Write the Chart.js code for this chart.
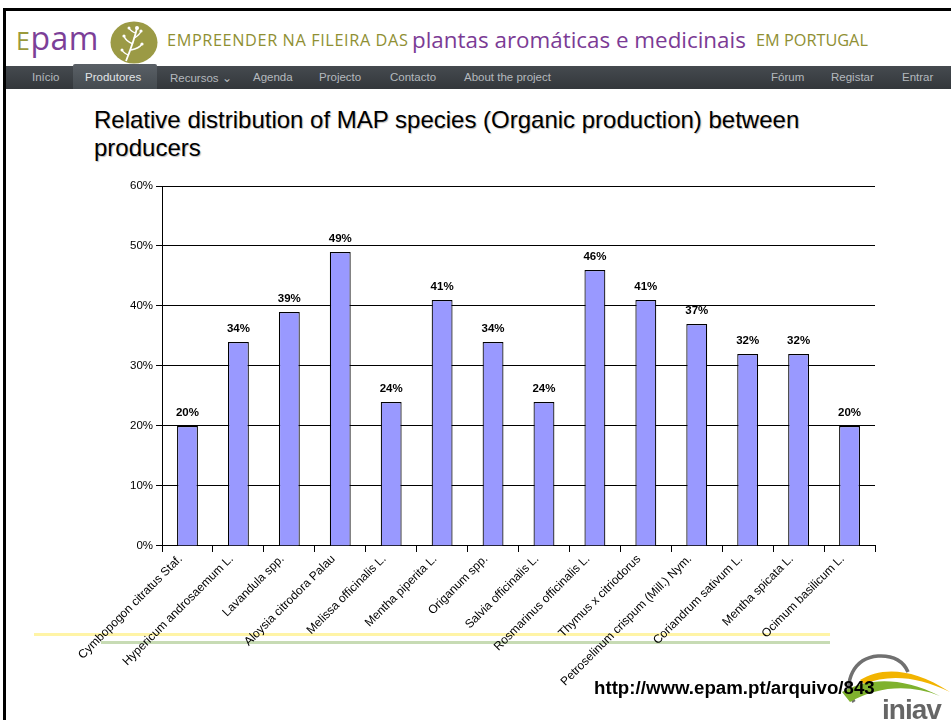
<!DOCTYPE html>
<html>
<head>
<meta charset="utf-8">
<script src="https://cdn.jsdelivr.net/npm/chart.js@4/dist/chart.umd.min.js"></script>
<style>
  html,body{margin:0;padding:0;background:#fff;}
  body{width:951px;height:720px;position:relative;overflow:hidden;font-family:"Liberation Sans",Arial,sans-serif;}
  .abs{position:absolute;}
  #frameTop{left:3px;top:8px;width:948px;height:3px;background:#000;}
  #frameLeft{left:3px;top:8px;width:3px;height:712px;background:#000;}
  #logo{left:16px;top:19px;font-family:"Open Sans",sans-serif;font-size:32px;line-height:38px;letter-spacing:0.5px;}
  .tg{position:absolute;font-family:"Open Sans",sans-serif;white-space:nowrap;color:#8f8f33;}
  .tg.s{font-size:16.3px;top:29px;}
  .tg.b{font-size:22.4px;color:#7b3b95;top:24px;}
  #nav{left:6px;top:66px;width:945px;height:23px;background:linear-gradient(#454a4f,#33373b);}
  .ni{position:absolute;top:71px;font-family:"Liberation Sans Narrow","Liberation Sans",Arial,sans-serif;font-size:11.5px;color:#b4b9be;white-space:nowrap;}
  #act{left:73px;top:64px;width:84px;height:25px;background:linear-gradient(#5a6066,#454b50);border-radius:2px 2px 0 0;}
  #title{left:94px;top:106px;font-size:24px;line-height:28px;color:#000;text-shadow:1px 1px 1px #bbb;}
  #ly{left:34px;top:633px;width:796px;height:3px;background:#fff4a6;}
  #lg{left:101px;top:641px;width:729px;height:3px;background:#c7dbb4;}
  #url{left:594px;top:677px;font-size:18.7px;font-weight:bold;color:#000;white-space:nowrap;}
  #cv{position:absolute;left:0;top:170px;}
</style>
</head>
<body>
<div id="frameTop" class="abs"></div>
<div id="frameLeft" class="abs"></div>
<div id="logo" class="abs"><span style="color:#9a9a3c;font-size:25px">E</span><span style="color:#7c3f98">pam</span></div>
<svg class="abs" style="left:110px;top:21px" width="48" height="43" viewBox="0 0 48 43">
  <ellipse cx="24" cy="21.5" rx="23.5" ry="21" fill="#9b9a45"/>
  <path d="M16 40 C20 30 24 20 27 7" stroke="#fff" stroke-width="1.8" fill="none"/>
  <path d="M23 23 C18 21 15 18 14 15 M24 17 C28 15 30 13 31 10 M21 29 C26 28 30 26 32 23 M26 12 C22 11 20 9 19 7 M19 34 C15 33 13 31 12 29" stroke="#fff" stroke-width="1.4" fill="none"/>
  <circle cx="27" cy="7" r="2" fill="#fff"/><circle cx="31" cy="10" r="1.6" fill="#fff"/><circle cx="14" cy="15" r="1.6" fill="#fff"/><circle cx="32" cy="23" r="1.6" fill="#fff"/><circle cx="19" cy="7" r="1.5" fill="#fff"/><circle cx="12" cy="29" r="1.5" fill="#fff"/>
</svg>
<div class="tg s" style="left:167px;letter-spacing:0.6px">EMPREENDER NA FILEIRA DAS</div>
<div class="tg b" style="left:412px">plantas aromáticas e medicinais</div>
<div class="tg s" style="left:756px">EM PORTUGAL</div>
<div id="nav" class="abs"></div>
<div id="act" class="abs"></div>
<div class="ni" style="left:32px">Início</div>
<div class="ni" style="left:85px;color:#e2e5e8">Produtores</div>
<div class="ni" style="left:170px">Recursos ⌄</div>
<div class="ni" style="left:253px">Agenda</div>
<div class="ni" style="left:319px">Projecto</div>
<div class="ni" style="left:390px">Contacto</div>
<div class="ni" style="left:464px">About the project</div>
<div class="ni" style="left:771px">Fórum</div>
<div class="ni" style="left:831px">Registar</div>
<div class="ni" style="left:902px">Entrar</div>
<div id="title" class="abs">Relative distribution of MAP species (Organic production) between<br>producers</div>
<div id="ly" class="abs"></div>
<div id="lg" class="abs"></div>
<canvas id="cv" width="951" height="520"></canvas>
<svg class="abs" style="left:838px;top:650px" width="113" height="70" viewBox="0 0 113 70">
  <path d="M16 52 C4 32 16 8 40 6 C56 5 66 12 70 22" stroke="#707070" stroke-width="3.5" fill="none"/>
  <path d="M22 30 C42 18 72 16 112 42 C80 26 50 24 26 34 Z" fill="#f2b400"/>
  <path d="M4 42 C30 28 62 26 102 46 C72 34 40 36 12 52 Z" fill="#7fb22e"/>
  <text x="44" y="69" font-family="Liberation Sans, Arial" font-weight="bold" font-size="28" fill="#666" letter-spacing="-1">iniav</text>
</svg>
<div id="url" class="abs">http://www.epam.pt/arquivo/843</div>
<script>
const categories = ["Cymbopogon citratus Staf.","Hypericum androsaemum L.","Lavandula spp.","Aloysia citrodora Palau","Melissa officinalis L.","Mentha piperita L.","Origanum spp.","Salvia officinalis L.","Rosmarinus officinalis L.","Thymus x citriodorus","Petroselinum crispum (Mill.) Nym.","Coriandrum sativum L.","Mentha spicata L.","Ocimum basilicum L."];
const shares = [20,34,39,49,24,41,34,24,46,41,37,32,32,20];
const yTicks = [0,10,20,30,40,50,60];

const barLabels = {
  id:'barLabels',
  afterDatasetsDraw(chart){
    const ctx = chart.ctx;
    const meta = chart.getDatasetMeta(0);
    ctx.save();
    ctx.font = 'bold 11.5px "Liberation Sans", Arial, sans-serif';
    ctx.fillStyle = '#000';
    ctx.textAlign = 'center';
    ctx.textBaseline = 'bottom';
    meta.data.forEach((el,i)=>{
      ctx.fillText(shares[i]+'%', el.x, el.y-7);
    });
    ctx.restore();
  }
};

new Chart(document.getElementById('cv'), {
  type:'bar',
  data:{labels:categories, datasets:[{data:shares, backgroundColor:'#9999ff', borderColor:'#000', borderWidth:1.2, barPercentage:0.41, categoryPercentage:1}]},
  options:{
    responsive:false, animation:false,
    layout:{padding:{left:127,right:76,top:16,bottom:1}},
    plugins:{legend:{display:false}, tooltip:{enabled:false}},
    scales:{
      y:{min:0,max:60,
        afterBuildTicks(s){s.ticks = yTicks.map(v=>({value:v}));},
        ticks:{callback:v=>v+'%', font:{size:11.5,family:'"Liberation Sans", Arial, sans-serif'}, color:'#000', padding:3},
        grid:{color:'#000', lineWidth:1, tickLength:6, tickColor:'#000'},
        border:{color:'#000', width:1}
      },
      x:{
        ticks:{maxRotation:45,minRotation:45,autoSkip:false, labelOffset:-7, font:{size:12,family:'"Liberation Sans", Arial, sans-serif'}, color:'#000', padding:0},
        grid:{display:true, drawOnChartArea:false, tickLength:6, tickColor:'#000', offset:true},
        border:{color:'#000', width:1}
      }
    }
  },
  plugins:[barLabels]
});
</script>
</body>
</html>
